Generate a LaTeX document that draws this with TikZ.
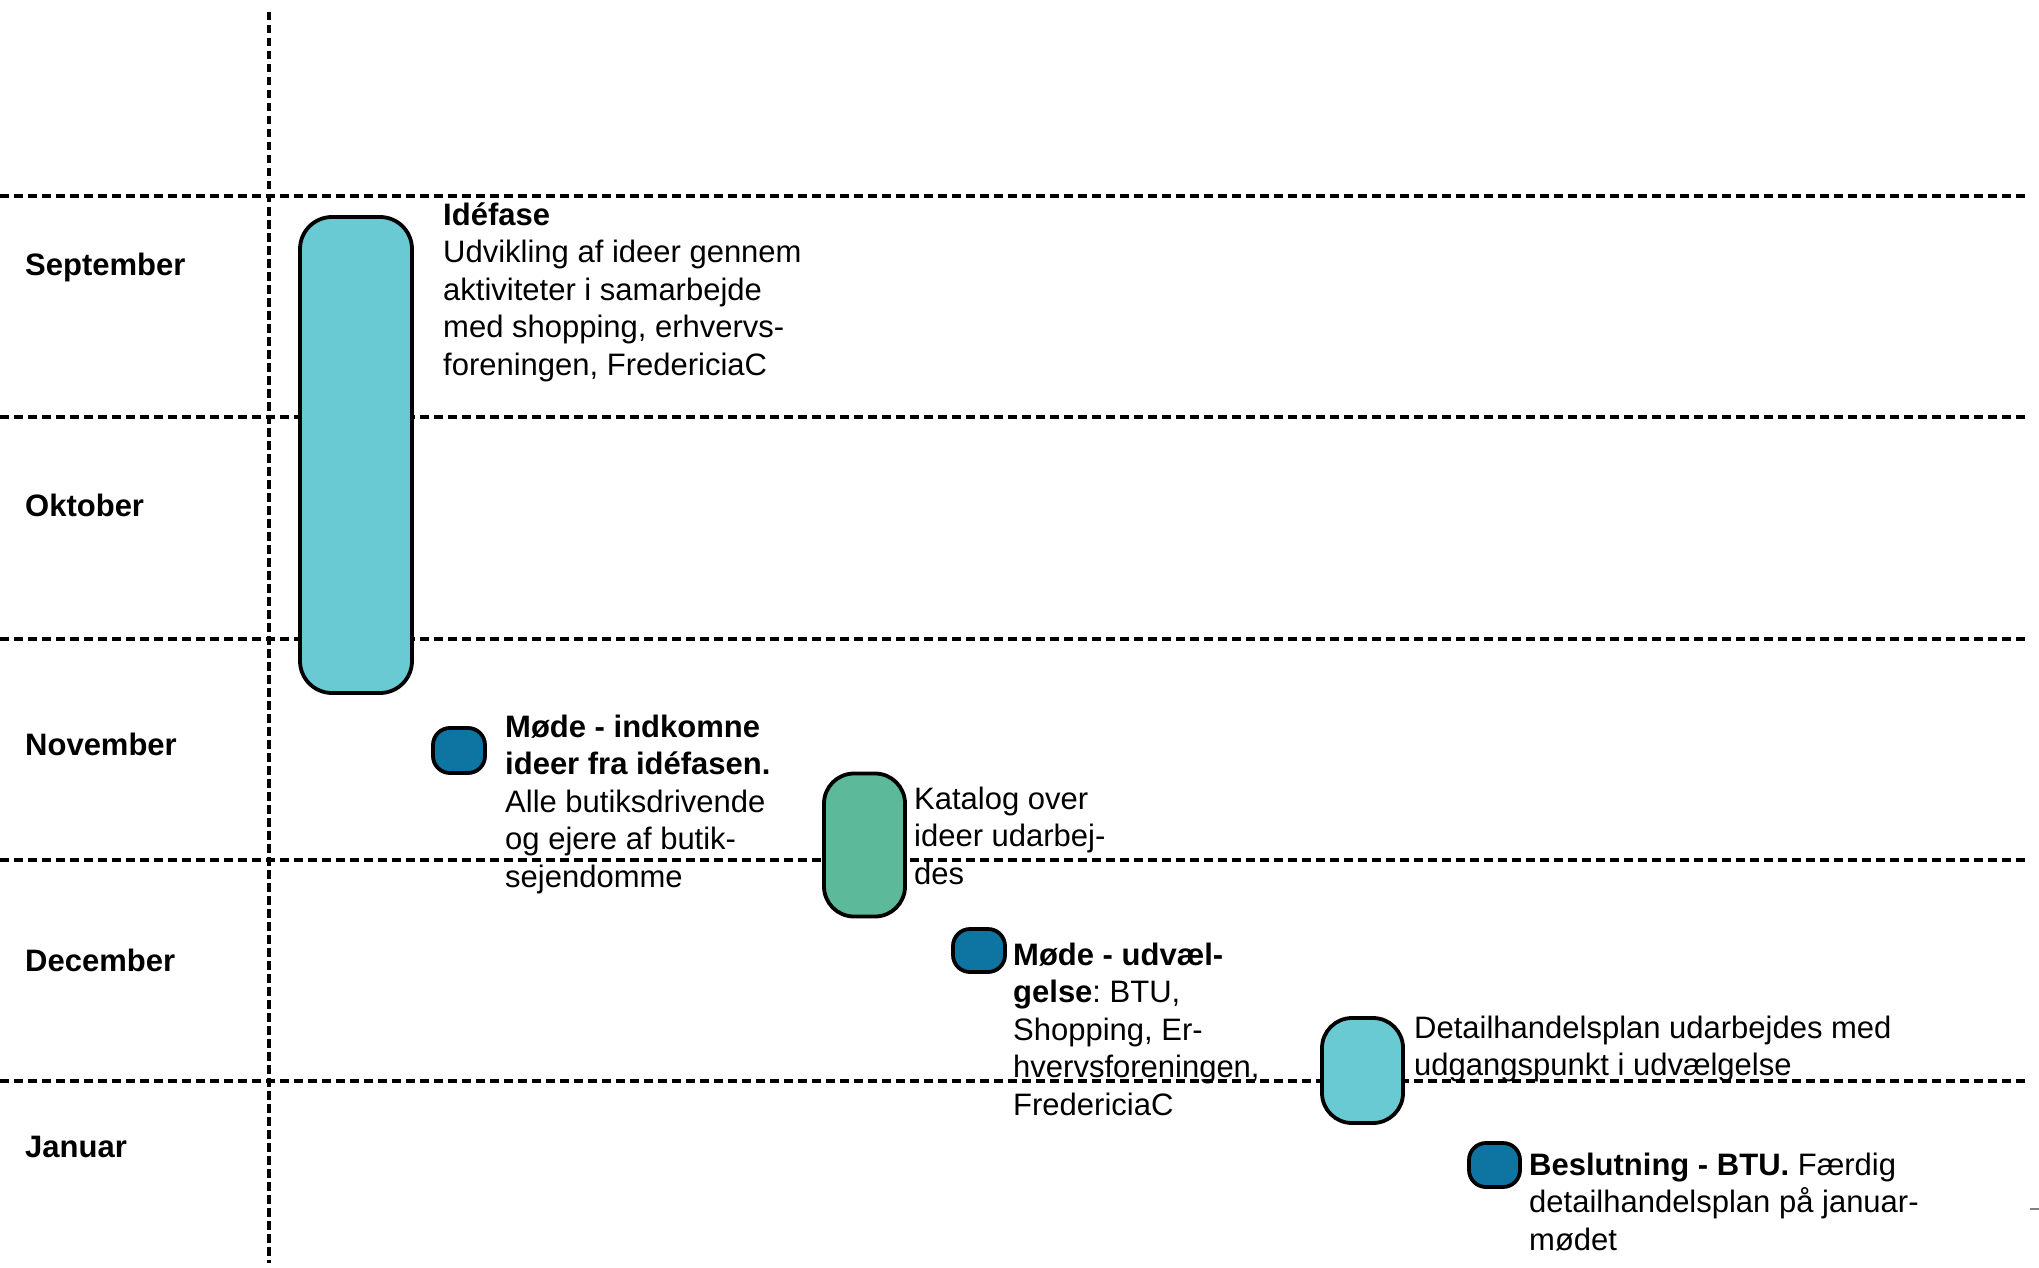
\documentclass[tikz,border=0pt]{standalone}
\usepackage{fontspec}
\setmainfont{Liberation Sans}
\frenchspacing
\definecolor{idecyan}{RGB}{106,202,212}
\definecolor{modeblue}{RGB}{14,117,163}
\definecolor{kataloggreen}{RGB}{92,186,154}
\tikzset{
 hline/.style={dash pattern=on 9pt off 5pt,line width=3.5pt},
 vline/.style={dash pattern=on 8.5pt off 4.5pt,line width=4pt},
 phase/.style={draw=black,line width=3.8pt,inner sep=0pt},
 txt/.style={anchor=base west,inner sep=0pt,align=left,font=\fontsize{31}{37.5}\selectfont},
 month/.style={anchor=base west,inner sep=0pt,font=\bfseries\fontsize{31}{37.5}\selectfont},
}

\begin{document}
\begin{tikzpicture}[x=1pt,y=-1pt]
 \useasboundingbox (0,0) rectangle (2039,1268);

 % month grid
 \foreach \y in {196,417,639,860,1081}
  \draw[hline] (0,\y) -- (2029,\y);
 \draw[vline] (269,12) -- (269,1263);

 \node[month] (sep) at (25,275) {September};
 \node[month] (okt) at (25,516) {Oktober};
 \node[month] (nov) at (25,755) {November};
 \node[month] (dec) at (25,971) {December};
 \node[month] (jan) at (25,1157) {Januar};

 % phases
 \node[phase,fill=idecyan,rounded corners=32pt,minimum width=112pt,minimum height=476pt] (idefase) at (356,455) {};
 \node[phase,fill=modeblue,rounded corners=17pt,minimum width=52pt,minimum height=45pt] (mode1) at (459,750.5) {};
 \node[phase,fill=kataloggreen,rounded corners=30pt,minimum width=81pt,minimum height=143pt] (katalog) at (864.5,845) {};
 \node[phase,fill=modeblue,rounded corners=17pt,minimum width=52pt,minimum height=43pt] (mode2) at (979,950.5) {};
 \node[phase,fill=idecyan,rounded corners=30pt,minimum width=81pt,minimum height=105pt] (detail) at (1362.5,1070.5) {};
 \node[phase,fill=modeblue,rounded corners=17pt,minimum width=51pt,minimum height=44pt] (beslut) at (1494.5,1165) {};

 % texts (anchored at the baseline of the last line)
 \node[txt] (idefasetxt) at (443,375) {\textbf{Idéfase}\\Udvikling af ideer gennem\\aktiviteter i samarbejde\\med shopping, erhvervs-\\foreningen, FredericiaC};
 \node[txt] (mode1txt) at (505,887) {\textbf{Møde - indkomne}\\\textbf{ideer fra idéfasen.}\\Alle butiksdrivende\\og ejere af butik-\\sejendomme};
 \node[txt] (katalogtxt) at (914,884) {Katalog over\\ideer udarbej-\\des};
 \node[txt] (mode2txt) at (1013,1115) {\textbf{Møde - udvæl-}\\\textbf{gelse}: BTU,\\Shopping, Er-\\hvervsforeningen,\\FredericiaC};
 \node[txt] (detailtxt) at (1414,1075.5) {Detailhandelsplan udarbejdes med\\udgangspunkt i udvælgelse};
 \node[txt] (besluttxt) at (1529,1250) {\textbf{Beslutning - BTU.} Færdig\\detailhandelsplan på januar-\\mødet};

 \draw[gray,line width=2pt] (2030,1209) -- (2039,1209);
\end{tikzpicture}
\end{document}
